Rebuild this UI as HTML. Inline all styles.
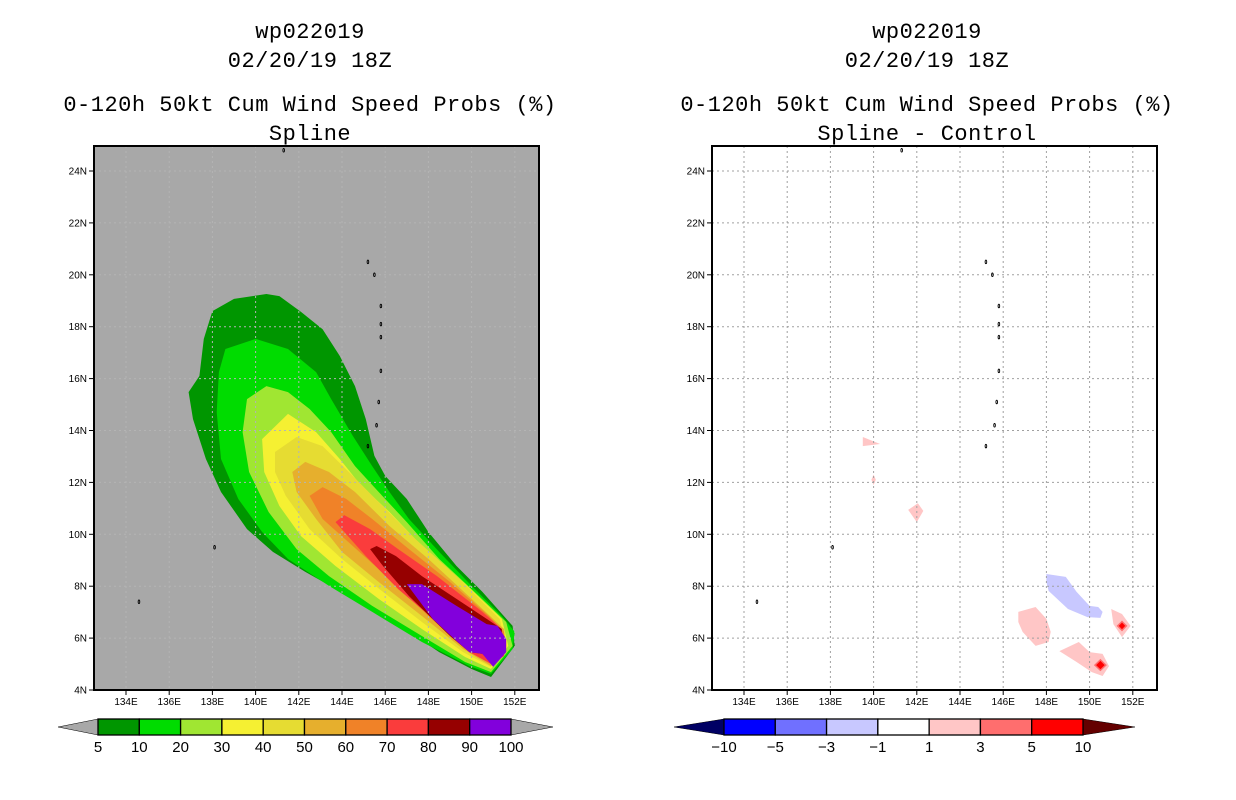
<!DOCTYPE html>
<html><head><meta charset="utf-8"><style>
body{margin:0;background:#fff;width:1236px;height:800px;overflow:hidden}
svg{display:block}
text{font-family:"Liberation Sans",sans-serif;fill:#000}
.ttl text{font-family:"Liberation Mono",monospace;letter-spacing:0.5px}
</style></head><body>
<svg id="root" width="1236" height="800" viewBox="0 0 1236 800">
<g class="ttl" font-size="22" text-anchor="middle">
<text x="310" y="38">wp022019</text>
<text x="310" y="67">02/20/19 18Z</text>
<text x="310" y="111">0-120h 50kt Cum Wind Speed Probs (%)</text>
<text x="310" y="140">Spline</text>
</g>
<g class="ttl" font-size="22" text-anchor="middle">
<text x="927" y="38">wp022019</text>
<text x="927" y="67">02/20/19 18Z</text>
<text x="927" y="111">0-120h 50kt Cum Wind Speed Probs (%)</text>
<text x="927" y="140">Spline - Control</text>
</g>
<g id="left"></g>
<g id="right"></g>
<g id="cbL"></g>
<g id="cbR"></g>
</svg>
<script>
const lonTicks=[134,136,138,140,142,144,146,148,150,152];
const latTicks=[4,6,8,10,12,14,16,18,20,22,24];
const probLevels=[5,10,20,30,40,50,60,70,80,90,100];
const probColors=["#009600","#00dc00","#a0e632","#f5f032","#e6dc32","#e6af2d","#f08228","#fa3c3c","#960000","#8200dc"];
const diffLabels=["-10","-5","-3","-1","1","3","5","10"];
const diffColors=["#0000ff","#7070ff","#c8c8ff","#ffffff","#ffc6c6","#ff6e6e","#ff0000"];
const probContours=[
[[138.0,18.6],[139.0,19.07],[140.5,19.26],[141.1,19.18],[142.1,18.57],[143.1,17.9],[143.9,16.87],[144.6,15.71],[145.1,14.44],[145.5,13.02],[146.0,12.25],[147.0,11.36],[148.0,10.09],[149.3,8.78],[150.5,7.78],[151.9,6.47],[152.0,5.7],[150.9,4.5],[150.0,4.81],[148.5,5.46],[146.2,6.74],[144.3,7.62],[142.3,8.55],[140.8,9.32],[139.6,10.2],[138.4,11.63],[137.7,12.9],[137.1,14.44],[136.9,15.48],[137.4,16.1],[137.6,17.53]],
[[138.6,17.14],[140.0,17.53],[141.5,17.14],[142.8,16.25],[143.5,15.21],[144.5,13.79],[145.4,12.63],[146.2,11.63],[147.1,10.59],[148.5,9.32],[150.0,8.01],[151.4,6.85],[152.0,6.24],[151.9,5.58],[150.9,4.62],[149.9,4.92],[147.7,5.85],[145.4,7.01],[143.4,8.01],[141.5,9.05],[140.3,10.09],[139.2,11.36],[138.4,12.9],[138.2,14.71],[138.3,16.25]],
[[139.6,15.21],[140.5,15.71],[141.5,15.48],[142.5,14.83],[143.5,13.94],[144.6,12.63],[145.7,11.63],[147.0,10.47],[148.5,9.05],[150.0,7.89],[151.6,6.62],[151.9,5.7],[150.9,4.69],[149.7,5.08],[147.7,6.08],[145.4,7.24],[143.4,8.39],[141.9,9.43],[140.6,10.86],[139.7,12.4],[139.4,13.94]],
[[140.3,13.67],[141.5,14.64],[142.8,13.94],[143.9,12.9],[144.9,11.86],[146.2,10.86],[147.7,9.55],[149.6,8.16],[151.4,6.74],[151.7,5.7],[150.9,4.81],[149.7,5.27],[147.7,6.35],[145.7,7.51],[143.7,8.78],[142.1,9.93],[141.1,11.09],[140.4,12.4]],
[[140.9,13.17],[141.9,13.75],[143.1,13.4],[144.5,12.25],[145.7,11.24],[147.4,9.82],[149.3,8.39],[151.3,6.74],[151.6,5.7],[150.9,4.89],[149.6,5.46],[147.7,6.62],[145.9,7.78],[144.0,9.05],[142.5,10.2],[141.4,11.48],[140.9,12.4]],
[[141.7,12.4],[142.3,12.79],[143.4,12.4],[144.6,11.63],[146.2,10.32],[148.0,9.05],[150.0,7.51],[151.5,6.35],[151.6,5.58],[150.9,4.92],[149.6,5.58],[147.7,6.85],[145.7,8.16],[144.0,9.32],[142.8,10.59],[141.9,11.63]],
[[142.5,11.48],[143.1,11.82],[144.2,11.36],[145.4,10.59],[147.1,9.43],[149.0,8.16],[150.8,6.85],[151.5,6.24],[151.5,5.46],[150.9,5.0],[149.7,5.58],[148.0,6.85],[146.2,8.28],[144.5,9.55],[143.1,10.59]],
[[143.7,10.47],[144.1,10.74],[145.3,10.2],[146.6,9.43],[148.4,8.39],[150.5,7.01],[151.4,6.35],[151.5,5.31],[150.9,5.0],[149.9,5.46],[148.4,6.62],[146.6,7.89],[145.1,9.16]],
[[145.3,9.43],[145.6,9.55],[146.5,9.16],[147.7,8.39],[149.3,7.51],[150.7,6.74],[151.4,6.35],[151.4,5.31],[150.9,5.08],[150.5,5.39],[149.9,5.46],[149.0,6.08],[147.1,7.62],[145.9,8.78]],
[[147.0,8.08],[147.7,8.08],[149.3,7.24],[150.7,6.54],[151.2,6.47],[151.6,5.97],[151.6,5.46],[151.0,4.89],[150.5,5.39],[149.9,5.46],[149.3,5.89],[148.2,6.74]]
];
const diffBlobs=[
{c:2,p:[[148.0,8.47],[148.9,8.36],[149.4,7.78],[150.0,7.24],[150.4,7.2],[150.6,7.01],[150.5,6.78],[149.9,6.81],[149.0,7.12],[148.1,7.82],[148.0,8.16]]},
{c:4,p:[[146.7,7.01],[147.5,7.2],[148.0,6.74],[148.2,6.24],[148.1,5.85],[147.5,5.7],[146.9,6.24],[146.7,6.62]]},
{c:4,p:[[148.6,5.5],[149.5,5.85],[150.0,5.46],[150.6,5.39],[150.9,4.92],[150.6,4.54],[150.1,4.69],[149.4,5.08]]},
{c:4,p:[[151.0,7.12],[151.5,6.93],[151.9,6.47],[151.5,6.04],[151.1,6.54]]},
{c:4,p:[[139.5,13.75],[139.5,13.4],[140.3,13.48]]},
{c:4,p:[[140.0,12.3],[140.1,12.1],[140.0,11.9],[139.9,12.1]]},
{c:4,p:[[142.05,11.2],[142.3,10.9],[142.0,10.47],[141.6,10.94]]},
{c:5,p:[[150.5,5.2],[150.8,4.96],[150.5,4.72],[150.2,4.96]]},
{c:6,p:[[150.5,5.12],[150.7,4.96],[150.5,4.8],[150.3,4.96]]},
{c:5,p:[[151.5,6.68],[151.75,6.47],[151.5,6.26],[151.25,6.47]]},
{c:6,p:[[151.5,6.6],[151.65,6.47],[151.5,6.34],[151.35,6.47]]}
];
const islands=[[145.7,15.1],[145.2,13.4],[145.6,14.2],[145.8,16.3],[145.8,17.6],[145.8,18.1],[145.8,18.8],[145.5,20.0],[145.2,20.5],[138.1,9.5],[134.6,7.4],[141.3,24.8]];
const NS="http://www.w3.org/2000/svg";
function mk(parent,tag,attrs){const e=document.createElementNS(NS,tag);for(const k in attrs)e.setAttribute(k,attrs[k]);parent.appendChild(e);return e;}
const X0=94,X1=539,Y0=146,Y1=690;
function xs(off,lon){return off+126+(lon-134)*21.6;}
function ys(lat){return Y1-(lat-4)*25.95;}
function pts(off,p){return p.map(q=>xs(off,q[0]).toFixed(1)+","+ys(q[1]).toFixed(1)).join(" ");}
function drawMap(g,off,bg){
  const r=mk(g,"rect",{x:X0+off,y:Y0,width:X1-X0,height:Y1-Y0,fill:bg});
  
  
  return r;
}
function drawAxes(g,off,gc){
  lonTicks.forEach(l=>{
    const x=xs(off,l);
    const ln=mk(g,"line",{x1:x,y1:Y0,x2:x,y2:Y1,stroke:gc,"stroke-dasharray":"2,3","stroke-width":1});
    
    
    mk(g,"line",{x1:x,y1:Y1,x2:x,y2:Y1+5,stroke:"#000"});
    const t=mk(g,"text",{x:x,y:Y1+15,"font-size":10,"text-anchor":"middle"});t.textContent=l+"E";
    
    
  });
  latTicks.forEach(l=>{
    const y=ys(l);
    if(l>4){const ln=mk(g,"line",{x1:X0+off,y1:y,x2:X1+off,y2:y,stroke:gc,"stroke-dasharray":"2,3","stroke-width":1});
    
    }
    mk(g,"line",{x1:X0+off-5,y1:y,x2:X0+off,y2:y,stroke:"#000"});
    const t=mk(g,"text",{x:X0+off-7,y:y+3.5,"font-size":10,"text-anchor":"end"});t.textContent=l+"N";
    
    
  });
  islands.forEach(p=>{
    const e=mk(g,"ellipse",{cx:xs(off,p[0]),cy:ys(p[1]),rx:0.8,ry:1.8,fill:"none",stroke:"#000","stroke-width":0.9});
    
    
  });
  const f=mk(g,"rect",{x:X0+off,y:Y0,width:X1-X0,height:Y1-Y0,fill:"none",stroke:"#000","stroke-width":2});
  
  
}
const L=document.getElementById("left"),R=document.getElementById("right");
drawMap(L,0,"#a8a8a8");
probContours.forEach((p,i)=>{
  const e=mk(L,"polygon",{points:pts(0,p),fill:probColors[i]});
  
  
});
drawAxes(L,0,"#b4b4b4");
drawMap(R,618,"#ffffff");
diffBlobs.forEach(b=>{
  const e=mk(R,"polygon",{points:pts(618,b.p),fill:diffColors[b.c]});
  
  
});
drawAxes(R,618,"#a0a0a0");
function colorbar(g,x0,x1,aL,aR,colors,labels,leftCap,rightCap){
  const n=colors.length,w=(x1-x0)/n,y0=719,y1=735,ym=727;
  const a=mk(g,"polygon",{points:`${aL},${ym} ${x0},${y0} ${x0},${y1}`,fill:leftCap,stroke:"#000","stroke-width":0.5});
  
  
  const b=mk(g,"polygon",{points:`${aR},${ym} ${x1},${y0} ${x1},${y1}`,fill:rightCap,stroke:"#000","stroke-width":0.5});
  
  
  colors.forEach((c,i)=>{
    const r=mk(g,"rect",{x:x0+i*w,y:y0,width:w,height:y1-y0,fill:c,stroke:"#000","stroke-width":1.3});
    
    
  });
  labels.forEach((l,i)=>{
    const t=mk(g,"text",{x:x0+i*w,y:752,"font-size":15,"text-anchor":"middle"});t.textContent=l.replace("-","\u2212");
    
    
  });
}
colorbar(document.getElementById("cbL"),98,511,58,553,probColors,probLevels.map(String),"#a8a8a8","#a8a8a8");
colorbar(document.getElementById("cbR"),724,1083,674,1135,diffColors,diffLabels,"#000064","#640000");
</script>
</body></html>
